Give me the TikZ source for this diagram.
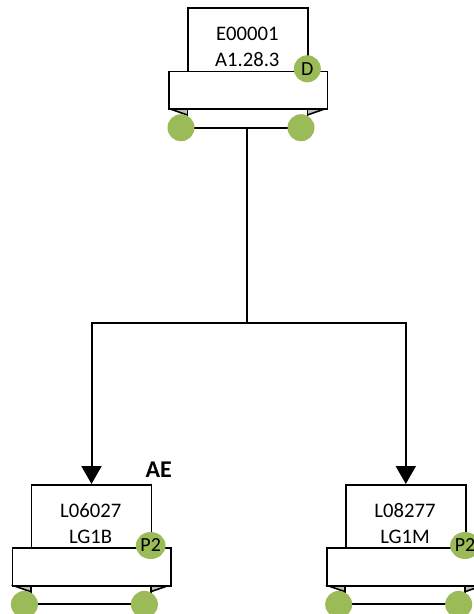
\documentclass[tikz,border=0pt]{standalone}
\usepackage{fontspec}
\setmainfont{Carlito}
\usetikzlibrary{arrows.meta,shapes.geometric}
\definecolor{olivegreen}{HTML}{9BBB59}
\definecolor{trigray}{HTML}{BFBFBF}
\tikzset{
  boxline/.style={draw=black,line width=1.2pt,fill=white},
  wire/.style={draw=black,line width=1.5pt},
  wheel/.style={circle,fill=olivegreen,minimum size=27*0.75pt,inner sep=0pt},
  badge/.style={ellipse,fill=olivegreen,minimum size=27*0.75pt,inner sep=0.2pt,font=\fontsize{15}{17}\selectfont},
  label/.style={align=center,font=\fontsize{15.5}{19.5}\selectfont},
  arrowtip/.style={-{Triangle[length=13.5pt,width=15pt]}},
}
\newcommand\equnit[6]{%
  \begin{scope}[shift={(#2,#3)}]
    \draw[wire] (-6.3,120.4) -- (113.7,120.4);
    \fill[trigray] (-19,101) -- (0,101) -- (0,107.7) -- cycle;
    \fill[trigray] (139.3,101) -- (120,101) -- (120,107.7) -- cycle;
    \draw[boxline] (-19,101) -- (0,107.7);
    \draw[boxline] (139.3,101) -- (120,107.7);
    \draw[boxline] (0,101) -- (0,118);
    \draw[boxline] (120,101) -- (120,118);
    \node[boxline,anchor=north west,minimum width=120*0.75pt,minimum height=63.4*0.75pt,inner sep=0pt] (#1-box) at (0,0) {};
    \node[boxline,anchor=north west,minimum width=158.3*0.75pt,minimum height=37.6*0.75pt,inner sep=0pt] (#1-base) at (-19,63.4) {};
    \node[label] (#1-txt) at (60,40) {#4\\#5};
    \node[badge] (#1-badge) at (120,61.5) {#6};
    \node[wheel] (#1-cl) at (-6.3,120.4) {};
    \node[wheel] (#1-cr) at (113.7,120.4) {};
    \coordinate (#1-mid) at (60,120.4);
  \end{scope}}
\begin{document}
\begin{tikzpicture}[x=0.75pt,y=-0.75pt]
  \useasboundingbox (0,0) rectangle (474,614);
  \clip (0,0) rectangle (474,614);
  \coordinate (junction) at (247.3,323);
  \equnit{top}{187.3}{7.3}{E00001}{A1.28.3}{D}
  \equnit{left}{30.7}{484}{L06027}{LG1B}{P2}
  \equnit{right}{345}{484}{L08277}{LG1M}{P2}
  \draw[wire] (top-mid) -- (junction);
  \draw[wire,arrowtip] (junction) -| (left-box.north);
  \draw[wire,arrowtip] (junction) -| (right-box.north);
  \node[font=\bfseries\fontsize{18}{20}\selectfont] (ae) at (158.7,469.3) {AE};
\end{tikzpicture}
\end{document}
